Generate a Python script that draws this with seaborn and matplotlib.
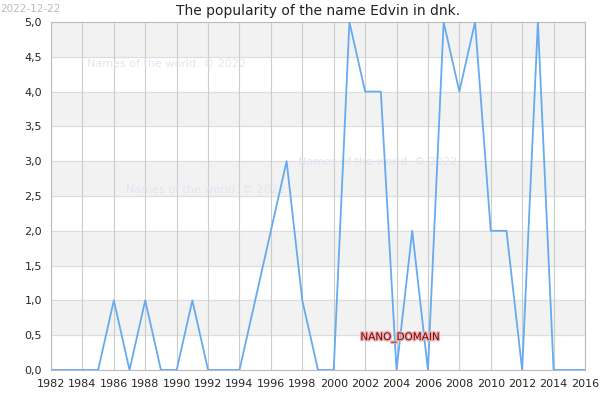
import matplotlib
matplotlib.use("Agg")
import matplotlib.pyplot as plt
import matplotlib.patheffects as pe
import seaborn as sns
import pandas as pd

years = list(range(1982, 2017))
counts = [0, 0, 0, 0, 1, 0, 1, 0, 0, 1, 0, 0, 0, 1, 2, 3, 1, 0, 0, 5,
          4, 4, 0, 2, 0, 5, 4, 5, 2, 2, 0, 5, 0, 0, 0]
y_ticks = [0, 0.5, 1, 1.5, 2, 2.5, 3, 3.5, 4, 4.5, 5]

df = pd.DataFrame({"year": years, "count": counts})

sns.set_style("white")
fig = plt.figure(figsize=(6, 4), dpi=100)
ax = fig.add_axes([0.085, 0.075, 0.89, 0.87])

# alternating horizontal bands
for lo in [0.5, 1.5, 2.5, 3.5, 4.5]:
    ax.axhspan(lo, lo + 0.5, color="#f2f2f2", zorder=0)
for y in y_ticks:
    ax.axhline(y, color="#dddddd", lw=0.8, zorder=0.5)
for x in range(1982, 2017, 2):
    ax.axvline(x, color="#cccccc", lw=0.8, zorder=0.5)

sns.lineplot(data=df, x="year", y="count", ax=ax, color="#66aaf0", lw=1.3, zorder=3)

ax.set_xlim(1982, 2016)
ax.set_ylim(0, 5)
ax.set_xticks(range(1982, 2017, 2))
ax.set_yticks(y_ticks)
ax.set_yticklabels([f"{v:.1f}".replace(".", ",") for v in y_ticks])
ax.tick_params(labelsize=8, length=3, color="#888888")
ax.set_xlabel("")
ax.set_ylabel("")
for s in ax.spines.values():
    s.set_color("#bbbbbb")
    s.set_linewidth(0.8)

ax.set_title("The popularity of the name Edvin in dnk.", fontsize=10, pad=5, color="#222222")
fig.text(0.0, 0.99, "2022-12-22", fontsize=7.5, color="#bbbbbb", va="top")

wm = "Names of the world. © 2022"
ax.text(1984.3, 4.35, wm, fontsize=8, color="#e4e4f4", zorder=1)
ax.text(1997.7, 2.95, wm, fontsize=8, color="#e4e4f4", zorder=1)
ax.text(1986.8, 2.55, wm, fontsize=8, color="#e4e4f4", zorder=1)
ax.text(2001.7, 0.43, "NANO_DOMAIN", fontsize=7.5, color="#7a0000",
        path_effects=[pe.withStroke(linewidth=2, foreground="#e8b0b0")])

fig.savefig("out.png", dpi=100)
